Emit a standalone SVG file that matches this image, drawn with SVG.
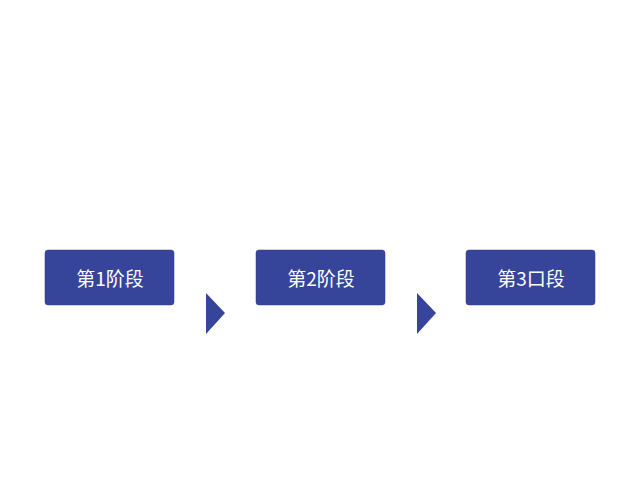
<svg xmlns="http://www.w3.org/2000/svg" width="640" height="504" viewBox="0 0 640 504">
<style>
.box{fill:#36449a;stroke:#2d3a8a;stroke-width:0.5}
.lbl{fill:#ffffff;font-family:"Noto Sans CJK SC","Noto Sans",sans-serif;font-size:19px;text-anchor:middle;dominant-baseline:central}
.arr{fill:#36449a}
</style>
<rect width="640" height="504" fill="#ffffff"/>
<g id="connectors">
<polygon class="arr" points="206,293 225,313 206,334"/>
<polygon class="arr" points="417,293 436,313 417,334"/>
</g>
<g id="node1">
<rect class="box" x="45" y="250" width="129" height="55" rx="3"/>
<text class="lbl" x="110" y="277.5">第1阶段</text>
</g>
<g id="node2">
<rect class="box" x="256" y="250" width="129" height="55" rx="3"/>
<text class="lbl" x="321" y="277.5">第2阶段</text>
</g>
<g id="node3">
<rect class="box" x="466" y="250" width="129" height="55" rx="3"/>
<text class="lbl" x="531" y="277.5">第3口段</text>
</g>
</svg>
